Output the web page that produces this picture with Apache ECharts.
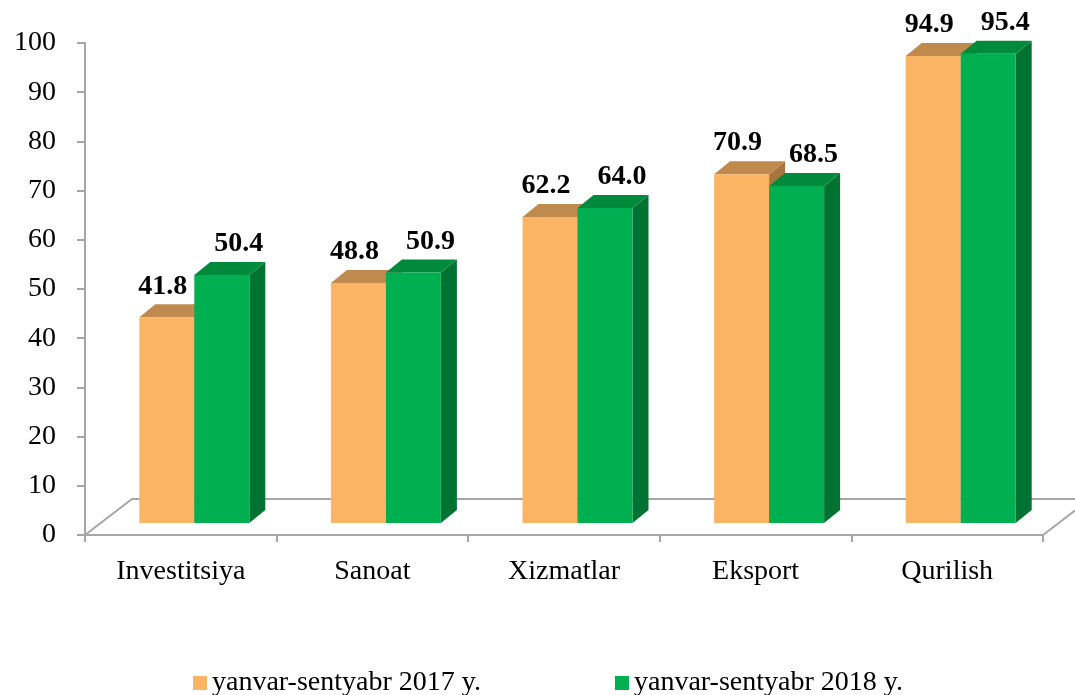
<!DOCTYPE html>
<html>
<head>
<meta charset="utf-8">
<script src="https://cdn.jsdelivr.net/npm/echarts@6/dist/echarts.min.js"></script>
<style>
  html, body { margin: 0; padding: 0; background: #fff; }
  #chart { width: 1075px; height: 695px; }
</style>
</head>
<body>
<div id="chart"></div>
<script>
// data
const categories = ['Investitsiya', 'Sanoat', 'Xizmatlar', 'Eksport', 'Qurilish']
const seriesNames = ['yanvar-sentyabr 2017 y.', 'yanvar-sentyabr 2018 y.']
const values2017 = [41.8, 48.8, 62.2, 70.9, 94.9]
const values2018 = [50.4, 50.9, 64.0, 68.5, 95.4]
const yTicks = [0, 10, 20, 30, 40, 50, 60, 70, 80, 90, 100]

const FONT = '"Times New Roman", "Liberation Serif", serif'
const AXIS_COLOR = '#a6a6a6'

// 3d look
const DEPTH_X = 16
const DEPTH_Y = -13
const LIFT = 12

const palettes = [
  { front: '#fab464', top: '#bf8a4e', side: '#a8753f' },
  { front: '#00b050', top: '#008a3c', side: '#007333' }
]

const makeBar = (idx) => (params, api) => {
  const cat = api.value(0)
  const v = api.value(1)
  const base = api.coord([cat, 0])
  const top = api.coord([cat, v])
  const band = api.size([1, 0])[0]
  const w = band * 0.287
  const shift = band * 0.0705
  const x0 = idx === 0 ? base[0] + shift - w : base[0] + shift
  const x1 = x0 + w
  const yb = base[1] - LIFT
  const yt = top[1] - LIFT
  const c = palettes[idx]
  const off = idx === 0 ? -12 : 9
  return {
    type: 'group',
    children: [
      {
        type: 'polygon',
        shape: { points: [[x1, yb], [x1 + DEPTH_X, yb + DEPTH_Y], [x1 + DEPTH_X, yt + DEPTH_Y], [x1, yt]] },
        style: { fill: c.side }
      },
      {
        type: 'polygon',
        shape: { points: [[x0, yt], [x0 + DEPTH_X, yt + DEPTH_Y], [x1 + DEPTH_X, yt + DEPTH_Y], [x1, yt]] },
        style: { fill: c.top }
      },
      {
        type: 'rect',
        shape: { x: x0, y: yt, width: w, height: yb - yt },
        style: { fill: c.front }
      },
      {
        type: 'text',
        x: (x0 + x1 + DEPTH_X) / 2 + off,
        y: yt + DEPTH_Y - 18,
        style: {
          text: v.toFixed(1),
          font: 'bold 28px ' + FONT,
          fill: '#000',
          align: 'center',
          verticalAlign: 'middle'
        }
      }
    ]
  }
}

// floor of the 3d plot area
const renderFloor = (params) => {
  const cs = params.coordSys
  const yb = cs.y + cs.height
  const xl = cs.x
  const xr = cs.x + cs.width
  return {
    type: 'polyline',
    shape: { points: [[xl, yb], [xl + 47, yb - 36], [xr + 47, yb - 36], [xr, yb]] },
    style: { stroke: AXIS_COLOR, lineWidth: 2, fill: null },
    silent: true
  }
}

const chart = echarts.init(document.getElementById('chart'))

chart.setOption({
  animation: false,
  grid: { left: 85, right: 32, top: 43, bottom: 160 },
  legend: {
    data: seriesNames,
    left: 193,
    top: 669,
    padding: 0,
    itemWidth: 14,
    itemHeight: 14,
    itemGap: 134,
    icon: 'rect',
    textStyle: { fontFamily: FONT, fontSize: 28, color: '#000', lineHeight: 28 }
  },
  xAxis: {
    type: 'category',
    data: categories,
    axisLine: { lineStyle: { color: AXIS_COLOR, width: 2 } },
    axisTick: { show: true, length: 7, lineStyle: { color: AXIS_COLOR, width: 2 } },
    axisLabel: { fontFamily: FONT, fontSize: 28, color: '#000', margin: 23 }
  },
  yAxis: {
    type: 'value',
    min: yTicks[0],
    max: yTicks[yTicks.length - 1],
    interval: yTicks[1] - yTicks[0],
    axisLine: { show: true, lineStyle: { color: AXIS_COLOR, width: 2 } },
    axisTick: { show: true, length: 8, lineStyle: { color: AXIS_COLOR, width: 2 } },
    splitLine: { show: false },
    axisLabel: { fontFamily: FONT, fontSize: 28, color: '#000', margin: 29 }
  },
  series: [
    {
      type: 'custom',
      silent: true,
      renderItem: renderFloor,
      data: [[0, 0]],
      itemStyle: { color: AXIS_COLOR },
      z: 1,
      clip: false
    },
    {
      name: seriesNames[0],
      type: 'custom',
      renderItem: makeBar(0),
      data: values2017.map((v, i) => [i, v]),
      encode: { x: 0, y: 1 },
      itemStyle: { color: palettes[0].front },
      z: 2,
      clip: false
    },
    {
      name: seriesNames[1],
      type: 'custom',
      renderItem: makeBar(1),
      data: values2018.map((v, i) => [i, v]),
      encode: { x: 0, y: 1 },
      itemStyle: { color: palettes[1].front },
      z: 3,
      clip: false
    }
  ]
})
</script>
</body>
</html>
